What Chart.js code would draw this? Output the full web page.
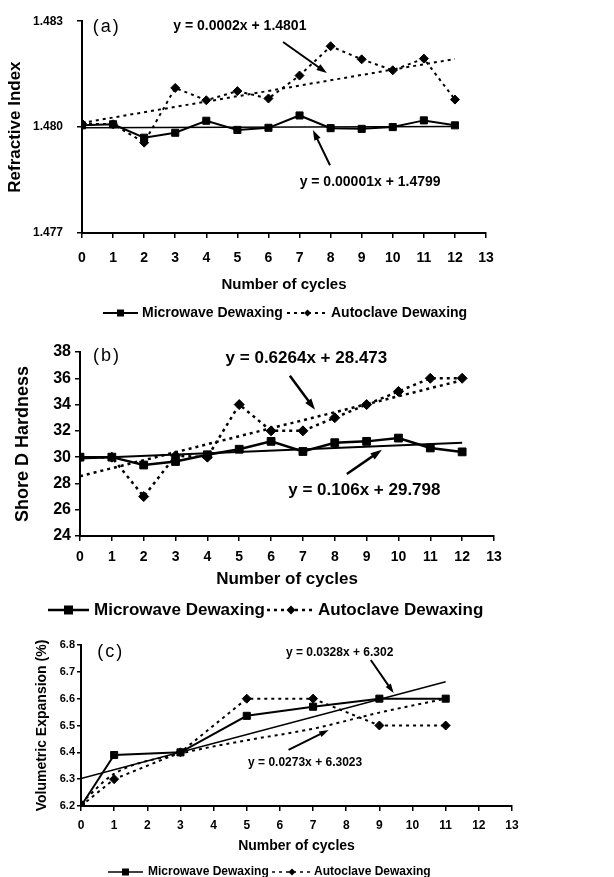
<!DOCTYPE html>
<html>
<head>
<meta charset="utf-8">
<script src="https://cdn.jsdelivr.net/npm/chart.js@4.4.1/dist/chart.umd.min.js"></script>
<style>
  body { margin: 0; background: #fff; }
  #wrap { position: relative; width: 614px; height: 877px; overflow: hidden; }
  canvas { position: absolute; left: 0; }
</style>
</head>
<body>
<div id="wrap">
  <canvas id="chartA" width="614" height="330" style="top:0px"></canvas>
  <canvas id="chartB" width="614" height="292" style="top:330px"></canvas>
  <canvas id="chartC" width="614" height="255" style="top:622px"></canvas>
</div>
<script>
// ---- data ----
const cycles = [0, 1, 2, 3, 4, 5, 6, 7, 8, 9, 10, 11, 12];
const xTicks = [0, 1, 2, 3, 4, 5, 6, 7, 8, 9, 10, 11, 12, 13];
const seriesNames = ['Microwave Dewaxing', 'Autoclave Dewaxing'];

// (a) refractive index
const riMicrowave = [1.48005, 1.48008, 1.4797, 1.47984, 1.48018, 1.47992, 1.47998, 1.48033, 1.47997, 1.47995, 1.48, 1.48019, 1.48005];
const riAutoclave = [1.4801, 1.48008, 1.47956, 1.48111, 1.48076, 1.48102, 1.48081, 1.48146, 1.48229, 1.48192, 1.48161, 1.48194, 1.48078];
const riTrendX = [0, 12];
const riMicrowaveTrend = [1.47998, 1.48002];
const riAutoclaveTrend = [1.48012, 1.48193];
const riTicks = [1.477, 1.480, 1.483];

// (b) shore D hardness
const hdMicrowave = [30.0, 30.0, 29.4, 29.67, 30.18, 30.6, 31.2, 30.43, 31.1, 31.2, 31.45, 30.7, 30.4];
const hdAutoclave = [30, 30, 27, 30.1, 30, 34, 32, 32, 33, 34, 35, 36, 36];
const hdTrendX = [0, 12];
const hdMicrowaveTrend = [29.9, 31.1];
const hdAutoclaveTrend = [28.55, 35.85];
const hdTicks = [24, 26, 28, 30, 32, 34, 36, 38];

// (c) volumetric expansion
const veCycles = [0, 1, 3, 5, 7, 9, 11];
const veMicrowave = [6.2, 6.39, 6.4, 6.536, 6.57, 6.6, 6.6];
const veAutoclave = [6.2, 6.3, 6.4, 6.6, 6.6, 6.5, 6.5];
const veMicrowaveTrendX = [0, 11];
const veMicrowaveTrend = [6.302, 6.663];
const veAutoclaveTrend = [6.21, 6.32, 6.395, 6.445, 6.488, 6.548, 6.6];
const veTicks = [6.2, 6.3, 6.4, 6.5, 6.6, 6.7, 6.8];

const FONT = "'Liberation Sans', Arial, Helvetica, sans-serif";

function pts(xs, ys) {
  return xs.map((x, i) => ({x: x, y: ys[i]}));
}

function drawArrow(ctx, x1, y1, x2, y2, head) {
  const ang = Math.atan2(y2 - y1, x2 - x1);
  ctx.beginPath();
  ctx.moveTo(x1, y1);
  ctx.lineTo(x2 - Math.cos(ang) * head * 0.6, y2 - Math.sin(ang) * head * 0.6);
  ctx.stroke();
  ctx.beginPath();
  ctx.moveTo(x2, y2);
  ctx.lineTo(x2 - head * Math.cos(ang - 0.32), y2 - head * Math.sin(ang - 0.32));
  ctx.lineTo(x2 - head * Math.cos(ang + 0.32), y2 - head * Math.sin(ang + 0.32));
  ctx.closePath();
  ctx.fill();
}

// equations, arrows, panel tag and legend
const panelDecor = {
  id: 'panelDecor',
  afterDraw(chart, args, o) {
    const ctx = chart.ctx;
    const xs = chart.scales.x, ys = chart.scales.y;
    ctx.save();
    ctx.fillStyle = '#000';
    ctx.strokeStyle = '#000';
    ctx.textAlign = 'center';
    ctx.textBaseline = 'middle';

    ctx.font = o.tagFont;
    ctx.letterSpacing = '2px';
    ctx.fillText(o.tag.text, xs.getPixelForValue(o.tag.x), ys.getPixelForValue(o.tag.y));
    ctx.letterSpacing = '0px';

    ctx.font = o.eqFont;
    o.equations.forEach(e => {
      ctx.fillText(e.text, xs.getPixelForValue(e.x), ys.getPixelForValue(e.y));
    });

    ctx.lineWidth = o.arrowWidth;
    o.arrows.forEach(a => {
      drawArrow(ctx, xs.getPixelForValue(a[0]), ys.getPixelForValue(a[1]),
        xs.getPixelForValue(a[2]), ys.getPixelForValue(a[3]), o.arrowHead);
    });

    // legend
    const lg = o.legend;
    ctx.font = lg.font;
    ctx.textAlign = 'left';
    lg.items.forEach((it, i) => {
      const ds = chart.data.datasets[i];
      ctx.lineWidth = lg.lineWidth;
      ctx.setLineDash(ds.borderDash || []);
      ctx.beginPath();
      ctx.moveTo(it.x1, lg.y);
      ctx.lineTo(it.x2, lg.y);
      ctx.stroke();
      ctx.setLineDash([]);
      const cx = (it.x1 + it.x2) / 2;
      if (ds.pointStyle === 'rect') {
        ctx.fillRect(cx - lg.square / 2, lg.y - lg.square / 2, lg.square, lg.square);
      } else {
        ctx.beginPath();
        ctx.moveTo(cx, lg.y - lg.diamond);
        ctx.lineTo(cx + lg.diamond, lg.y);
        ctx.lineTo(cx, lg.y + lg.diamond);
        ctx.lineTo(cx - lg.diamond, lg.y);
        ctx.closePath();
        ctx.fill();
      }
      ctx.fillText(ds.label, it.tx, lg.y);
    });
    ctx.restore();
  }
};

function makePanel(id, p) {
  const datasets = [
    {label: seriesNames[0], data: pts(p.x, p.mw), borderColor: '#000', borderWidth: p.lw,
      pointStyle: 'rect', pointRadius: p.sq, pointBackgroundColor: '#000', pointBorderColor: '#000', pointBorderWidth: 1},
    {label: seriesNames[1], data: pts(p.x, p.ac), borderColor: '#000', borderWidth: p.lw, borderDash: p.dash,
      pointStyle: 'rectRot', pointRadius: p.dm, pointBackgroundColor: '#000', pointBorderColor: '#000', pointBorderWidth: 1},
    {label: 'mw trend', data: pts(p.mwTx, p.mwT), borderColor: '#000', borderWidth: p.tw, pointRadius: 0},
    {label: 'ac trend', data: pts(p.acTx, p.acT), borderColor: '#000', borderWidth: p.lw, borderDash: p.dash,
      pointRadius: 0, cubicInterpolationMode: 'monotone'}
  ];
  return new Chart(document.getElementById(id), {
    type: 'line',
    data: {datasets: datasets},
    options: {
      responsive: false,
      animation: false,
      layout: {padding: {top: p.top, right: 614 - p.right, bottom: 0, left: 0}},
      plugins: {
        legend: {display: false},
        tooltip: {enabled: false},
        panelDecor: p.decor
      },
      scales: {
        x: {
          type: 'linear', min: 0, max: 13,
          afterBuildTicks: s => { s.ticks = xTicks.map(v => ({value: v})); },
          afterFit: s => { s.height = p.xh; },
          ticks: {font: {family: FONT, size: p.xtf, weight: 'bold'}, color: '#000', padding: p.xpad, maxRotation: 0, autoSkip: false},
          grid: {display: true, drawOnChartArea: false, drawTicks: true, tickLength: 5, color: '#000', lineWidth: 1.5},
          border: {display: true, color: '#000', width: 2},
          title: {display: true, text: 'Number of cycles', color: '#000',
            font: {family: FONT, size: p.xtitle, weight: 'bold'}, padding: {top: 0, bottom: p.xtpad}}
        },
        y: {
          type: 'linear', min: p.yTicks[0], max: p.yTicks[p.yTicks.length - 1],
          afterBuildTicks: s => { s.ticks = p.yTicks.map(v => ({value: v})); },
          afterFit: s => { s.width = p.left; },
          ticks: {font: {family: FONT, size: p.ytf, weight: 'bold'}, color: '#000', padding: p.ypad,
            callback: v => v.toFixed(p.dec)},
          grid: {display: true, drawOnChartArea: false, drawTicks: true, tickLength: p.ytl, color: '#000', lineWidth: 1.5},
          border: {display: true, color: '#000', width: 2},
          title: {display: true, text: p.ytitle, color: '#000',
            font: {family: FONT, size: p.ytitleSize, weight: 'bold'}, padding: {top: p.ytpad, bottom: 0}}
        }
      }
    },
    plugins: [panelDecor]
  });
}

makePanel('chartA', {
  x: cycles, mw: riMicrowave, ac: riAutoclave,
  mwTx: riTrendX, mwT: riMicrowaveTrend, acTx: riTrendX, acT: riAutoclaveTrend,
  yTicks: riTicks, dec: 3, lw: 2, tw: 1.5, dash: [3, 4], sq: 5, dm: 4.5,
  top: 21, right: 486, left: 82, xh: 97,
  xtf: 14, xpad: 12, xtitle: 15, xtpad: 36,
  ytf: 12, ypad: 14, ytl: 5, ytitle: 'Refractive Index', ytitleSize: 17, ytpad: 5,
  decor: {
    tagFont: '18px ' + FONT, eqFont: 'bold 14px ' + FONT, arrowWidth: 2, arrowHead: 11,
    tag: {text: '(a)', x: 0.8, y: 1.48283},
    equations: [
      {text: 'y = 0.0002x + 1.4801', x: 5.08, y: 1.48286},
      {text: 'y = 0.00001x + 1.4799', x: 9.27, y: 1.47844}
    ],
    arrows: [[6.47, 1.48241, 7.88, 1.48153], [7.98, 1.47892, 7.43, 1.47992]],
    legend: {y: 313, font: 'bold 14px ' + FONT, lineWidth: 2, square: 7, diamond: 3.5,
      items: [{x1: 103, x2: 138, tx: 142}, {x1: 287, x2: 328, tx: 331}]}
  }
});

makePanel('chartB', {
  x: cycles, mw: hdMicrowave, ac: hdAutoclave,
  mwTx: hdTrendX, mwT: hdMicrowaveTrend, acTx: hdTrendX, acT: hdAutoclaveTrend,
  yTicks: hdTicks, dec: 0, lw: 2.5, tw: 2, dash: [3, 4], sq: 5.5, dm: 5,
  top: 22, right: 494, left: 80, xh: 86,
  xtf: 14, xpad: 8, xtitle: 17, xtpad: 32,
  ytf: 16, ypad: 4, ytl: 5, ytitle: 'Shore D Hardness', ytitleSize: 18, ytpad: 12,
  decor: {
    tagFont: '18px ' + FONT, eqFont: 'bold 17px ' + FONT, arrowWidth: 2.5, arrowHead: 12,
    tag: {text: '(b)', x: 0.85, y: 37.66},
    equations: [
      {text: 'y = 0.6264x + 28.473', x: 7.11, y: 37.53},
      {text: 'y = 0.106x + 29.798', x: 8.93, y: 27.47}
    ],
    arrows: [[6.59, 36.19, 7.38, 33.6], [8.38, 28.71, 9.48, 30.56]],
    legend: {y: 280, font: 'bold 17px ' + FONT, lineWidth: 2.5, square: 9, diamond: 4.5,
      items: [{x1: 48, x2: 89, tx: 94}, {x1: 267, x2: 315, tx: 318}]}
  }
});

makePanel('chartC', {
  x: veCycles, mw: veMicrowave, ac: veAutoclave,
  mwTx: veMicrowaveTrendX, mwT: veMicrowaveTrend, acTx: veCycles, acT: veAutoclaveTrend,
  yTicks: veTicks, dec: 1, lw: 2, tw: 1.5, dash: [3, 4], sq: 5, dm: 4.5,
  top: 23, right: 512, left: 81, xh: 71,
  xtf: 12, xpad: 7, xtitle: 14, xtpad: 22,
  ytf: 11, ypad: 2, ytl: 4, ytitle: 'Volumetric Expansion (%)', ytitleSize: 14, ytpad: 34,
  decor: {
    tagFont: '18px ' + FONT, eqFont: 'bold 12px ' + FONT, arrowWidth: 2, arrowHead: 10,
    tag: {text: '(c)', x: 0.9, y: 6.774},
    equations: [
      {text: 'y = 0.0328x + 6.302', x: 7.8, y: 6.77},
      {text: 'y = 0.0273x + 6.3023', x: 6.76, y: 6.36}
    ],
    arrows: [[8.74, 6.744, 9.43, 6.621], [6.26, 6.409, 7.47, 6.483]],
    legend: {y: 250, font: 'bold 12px ' + FONT, lineWidth: 1.5, square: 7, diamond: 3.5,
      items: [{x1: 108, x2: 143, tx: 148}, {x1: 272, x2: 312, tx: 314}]}
  }
});
</script>
</body>
</html>
